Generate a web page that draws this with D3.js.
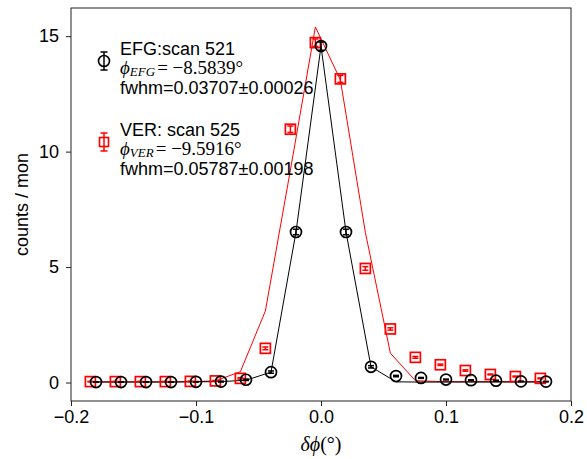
<!DOCTYPE html>
<html><head><meta charset="utf-8">
<script src="https://cdn.jsdelivr.net/npm/d3@7"></script>
<style>body{margin:0;background:#fff}</style>
</head><body><svg id="c" width="587" height="459"></svg>
<script>
// ---- data ----
const xEFG   = [-0.18,-0.16,-0.14,-0.12,-0.10,-0.08,-0.06,-0.04,-0.02,0.00,0.02,0.04,0.06,0.08,0.10,0.12,0.14,0.16,0.18];
const yEFG   = [0.02,0.02,0.02,0.02,0.03,0.04,0.12,0.45,6.52,14.57,6.52,0.68,0.28,0.20,0.13,0.10,0.08,0.05,0.04];
const eEFG   = [0.01,0.01,0.01,0.01,0.01,0.02,0.03,0.05,0.12,0.18,0.12,0.05,0.03,0.02,0.02,0.02,0.02,0.01,0.01];
const fitEFG = [0.02,0.02,0.02,0.02,0.03,0.04,0.10,0.45,6.52,14.57,6.52,0.68,0.03,0.02,0.02,0.02,0.02,0.02,0.02];

const xVER   = [-0.1845,-0.1645,-0.1445,-0.1245,-0.1045,-0.0845,-0.0645,-0.0445,-0.0245,-0.0045,0.0155,0.0355,0.0555,0.0755,0.0955,0.1155,0.1355,0.1555,0.1755];
const yVER   = [0.04,0.04,0.04,0.04,0.05,0.07,0.18,1.48,10.97,14.72,13.15,4.94,2.32,1.09,0.77,0.52,0.35,0.26,0.18];
const eVER   = [0.01,0.01,0.01,0.01,0.01,0.02,0.03,0.06,0.14,0.16,0.15,0.08,0.05,0.04,0.03,0.03,0.02,0.02,0.02];
const fitVER = [0.03,0.03,0.03,0.03,0.04,0.07,0.47,3.10,9.20,15.40,13.10,6.50,1.27,0.08,0.04,0.04,0.04,0.04,0.04];

const xTicks = [-0.2,-0.1,0.0,0.1,0.2];
const yTicks = [0,5,10,15];

const legendEFG = ["EFG:scan 521", "EFG", "= −8.5839°", "fwhm=0.03707±0.00026"];
const legendVER = ["VER: scan 525", "VER", "= −9.5916°", "fwhm=0.05787±0.00198"];

// ---- drawing ----
const W = 587, H = 459;
const m = {l:71, r:16, t:8, b:58};
const svg = d3.select("#c");
const x = d3.scaleLinear().domain([-0.2,0.2]).range([m.l, W-m.r]);
const y = d3.scaleLinear().domain([-0.8,16.22]).range([H-m.b, m.t]);
const RED = "#ff0000", BLK = "#000";
const SANS = "Liberation Sans, Arial, sans-serif";
const SERIF = "Liberation Serif, Times New Roman, serif";

// frame
svg.append("rect").attr("x",m.l).attr("y",m.t).attr("width",W-m.l-m.r).attr("height",H-m.t-m.b)
  .attr("fill","none").attr("stroke","#222").attr("stroke-width",1);

// axes
const xa = svg.append("g").attr("transform",`translate(0,${H-m.b})`)
  .call(d3.axisBottom(x).tickValues(xTicks).tickFormat(d3.format(".1f")).tickSize(5).tickPadding(4));
const ya = svg.append("g").attr("transform",`translate(${m.l},0)`)
  .call(d3.axisLeft(y).tickValues(yTicks).tickSize(5).tickPadding(7));
[xa,ya].forEach(a=>{
  a.select(".domain").remove();
  a.selectAll("line").attr("stroke","#222");
  a.selectAll("text").attr("font-family",SANS).attr("font-size",18).attr("fill","#000");
});

// axis labels
svg.append("text").attr("transform",`translate(28,${(m.t+H-m.b)/2}) rotate(-90)`)
  .attr("text-anchor","middle").attr("font-family",SANS).attr("font-size",18).text("counts / mon");
const xl = svg.append("text").attr("x",x(0)).attr("y",451).attr("text-anchor","middle")
  .attr("font-family",SERIF).attr("font-size",20);
xl.append("tspan").attr("font-style","italic").text("δϕ");
xl.append("tspan").text("(°)");

// lines
const line = (xs) => d3.line().x((d,i)=>x(xs[i])).y(d=>y(d));
svg.append("path").datum(fitVER).attr("d",line(xVER)).attr("fill","none").attr("stroke",RED).attr("stroke-width",1);
svg.append("path").datum(fitEFG).attr("d",line(xEFG)).attr("fill","none").attr("stroke",BLK).attr("stroke-width",1);

function errbar(g, cx, v, e, color){
  const y1 = y(v-e), y2 = y(v+e), c = 3;
  g.append("line").attr("x1",cx).attr("x2",cx).attr("y1",y1).attr("y2",y2).attr("stroke",color).attr("stroke-width",1.5);
  g.append("line").attr("x1",cx-c).attr("x2",cx+c).attr("y1",y1).attr("y2",y1).attr("stroke",color).attr("stroke-width",1.5);
  g.append("line").attr("x1",cx-c).attr("x2",cx+c).attr("y1",y2).attr("y2",y2).attr("stroke",color).attr("stroke-width",1.5);
}

// VER squares
const gV = svg.append("g");
yVER.forEach((v,i)=>{
  const cx = x(xVER[i]), cy = y(v);
  gV.append("rect").attr("x",cx-5).attr("y",cy-5).attr("width",10).attr("height",10)
    .attr("fill","none").attr("stroke",RED).attr("stroke-width",1.7);
  errbar(gV, cx, v, eVER[i], RED);
});
// EFG circles
const gE = svg.append("g");
yEFG.forEach((v,i)=>{
  const cx = x(xEFG[i]), cy = y(v);
  gE.append("circle").attr("cx",cx).attr("cy",cy).attr("r",5.5)
    .attr("fill","none").attr("stroke",BLK).attr("stroke-width",1.7);
  errbar(gE, cx, v, eEFG[i], BLK);
});

// legend
function legend(y0, sym, color, txt){
  const g = svg.append("g");
  const sx = 104, sy = y0 + 6;
  g.append("line").attr("x1",sx).attr("x2",sx).attr("y1",sy-9).attr("y2",sy+9).attr("stroke",color).attr("stroke-width",1.5);
  g.append("line").attr("x1",sx-3.5).attr("x2",sx+3.5).attr("y1",sy-9).attr("y2",sy-9).attr("stroke",color).attr("stroke-width",1.5);
  g.append("line").attr("x1",sx-3.5).attr("x2",sx+3.5).attr("y1",sy+9).attr("y2",sy+9).attr("stroke",color).attr("stroke-width",1.5);
  if(sym==="c") g.append("circle").attr("cx",sx).attr("cy",sy).attr("r",5.5).attr("fill","none").attr("stroke",color).attr("stroke-width",1.6);
  else g.append("rect").attr("x",sx-4.5).attr("y",sy-4.5).attr("width",9).attr("height",9).attr("fill","none").attr("stroke",color).attr("stroke-width",1.6);
  g.append("text").attr("x",120).attr("y",y0).attr("font-family",SANS).attr("font-size",18).text(txt[0]);
  const t = g.append("text").attr("x",120).attr("y",y0+19).attr("font-family",SERIF).attr("font-size",19);
  t.append("tspan").attr("font-style","italic").text("ϕ");
  t.append("tspan").attr("font-style","italic").attr("font-size",13).attr("dy",2).text(txt[1]);
  t.append("tspan").attr("dy",-2).attr("dx",2).text(txt[2]);
  g.append("text").attr("x",120).attr("y",y0+39).attr("font-family",SANS).attr("font-size",18).text(txt[3]);
}
legend(55, "c", BLK, legendEFG);
legend(136, "s", RED, legendVER);
</script></body></html>
